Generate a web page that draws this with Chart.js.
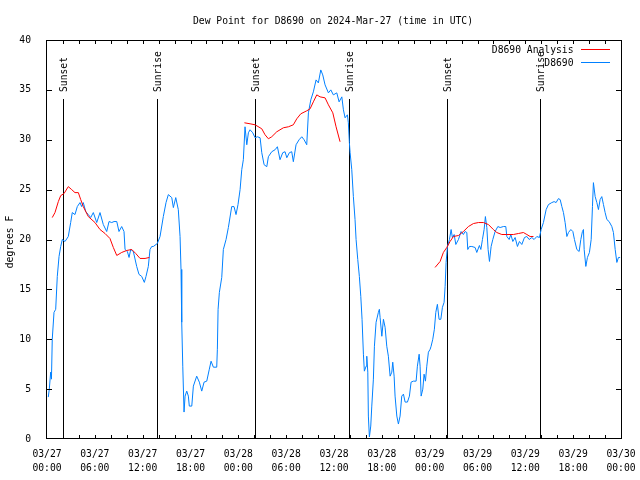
<!DOCTYPE html>
<html>
<head>
<meta charset="utf-8">
<script src="https://cdn.jsdelivr.net/npm/chart.js@4/dist/chart.umd.min.js"></script>
<style>
  body { margin: 0; background: #fff; }
  #dewChart { display: block; }
</style>
</head>
<body>
<canvas id="dewChart" width="640" height="480"></canvas>
<script>
// hours since 03/27 00:00 UTC
const blueHours = [0.16,0.29,0.46,0.56,0.66,0.88,1.09,1.29,1.51,1.72,1.92,2.26,2.67,2.97,3.17,3.51,3.80,4.14,4.35,4.55,4.86,5.18,5.48,5.81,6.24,6.65,7.06,7.49,7.78,8.12,8.41,8.75,9.03,9.37,9.66,9.79,10.08,10.29,10.50,10.83,11.25,11.54,11.88,12.21,12.42,12.71,12.92,13.14,13.34,13.84,14.18,14.59,14.93,15.22,15.65,15.85,16.15,16.47,16.69,16.81,16.90,17.03,17.19,17.32,17.53,17.73,17.85,18.16,18.36,18.78,19.11,19.41,19.70,20.04,20.36,20.58,20.87,21.29,21.37,21.46,21.62,21.92,22.12,22.46,22.75,23.17,23.46,23.71,23.96,24.22,24.43,24.63,24.84,25.06,25.26,25.47,25.81,26.10,26.39,26.73,26.94,27.23,27.57,27.77,28.19,28.61,28.90,29.23,29.57,29.86,30.08,30.40,30.70,30.90,31.24,31.62,31.96,32.25,32.58,32.79,33.09,33.41,33.75,34.04,34.34,34.59,34.88,35.30,35.60,35.92,36.35,36.64,36.98,37.18,37.39,37.68,37.80,37.93,38.02,38.23,38.43,38.64,38.77,38.98,39.18,39.36,39.52,39.69,39.81,40.03,40.11,40.24,40.31,40.44,40.61,40.74,40.94,41.07,41.28,41.57,41.69,41.78,42.00,42.20,42.41,42.62,42.82,43.04,43.25,43.37,43.54,43.66,43.88,44.08,44.29,44.50,44.71,44.92,45.21,45.46,45.67,45.96,46.30,46.46,46.68,46.80,46.93,47.14,47.30,47.47,47.64,47.84,48.06,48.18,48.39,48.59,48.77,48.97,49.18,49.40,49.60,49.81,49.94,50.06,50.23,50.48,50.69,50.85,51.07,51.28,51.61,51.94,52.23,52.45,52.66,52.78,52.99,53.29,53.70,53.91,54.24,54.42,54.62,54.83,54.99,55.17,55.33,55.50,55.71,55.92,56.21,56.55,56.84,57.25,57.55,57.68,57.97,58.18,58.43,58.72,59.01,59.26,59.56,59.89,60.19,60.48,60.82,61.10,61.44,61.77,61.98,62.27,62.61,62.90,63.32,63.61,63.86,64.15,64.37,64.58,64.78,64.99,65.21,65.41,65.71,65.96,66.16,66.46,66.75,66.96,67.16,67.29,67.38,67.59,67.79,68.04,68.26,68.42,68.54,68.76,68.97,69.17,69.38,69.59,69.80,70.01,70.23,70.51,70.85,71.05,71.27,71.48,71.68,71.89];
const blueValues = [4.2,5.0,6.7,6.0,10,12.7,13,16.3,18.3,19.3,20,19.8,20.3,21.7,22.7,22.5,23.3,23.7,23.3,23.7,22.8,22.5,22.2,22.7,21.7,22.7,21.5,20.8,21.8,21.7,21.8,21.8,20.8,21.3,20.8,19.0,18.8,18.2,19,18.8,17.3,16.5,16.3,15.7,16.3,17.3,19,19.3,19.3,19.6,20.3,22.3,23.7,24.5,24.2,23.2,24.2,23,20.3,17,11.7,7.3,2.7,4.3,4.8,4.3,3.3,3.3,5.3,6.3,5.7,4.8,5.7,5.8,7,7.8,7.2,7.2,9,13,14.7,16.2,19,20,21.2,23.3,23.3,22.5,23.5,25,27,28,31.3,29.5,30.7,31,30.7,30.2,30.3,30.2,28.7,27.5,27.3,28.3,28.8,29,29.3,28,28.7,28.8,28.2,28.7,28.8,27.8,29.5,30,30.3,30,29.5,32.7,34,34.8,36,35.7,37,36.5,35.5,34.7,35,34.5,34.7,33.8,34.3,33,32.2,32.5,31.7,29.7,28.7,27,24.3,22,20,18,16.3,14.3,12,8.5,6.8,7.3,8.3,6.7,2.3,0.2,1.3,3.3,6,9.3,11.7,12.7,13,12.2,10.3,12,11.2,9.3,8.3,6.3,6.7,7.7,6.3,4.3,2.3,1.5,2.3,4.3,4.5,3.7,3.7,4.3,5.7,5.8,5.8,7.3,8.5,7.3,4.3,5,6.5,5.8,7.3,8.7,9,9.3,10,11,12.7,13.5,12,12,13.2,13.7,15.3,17.7,19.3,20,21,20.2,20.5,19.5,20,20.8,20.5,20.8,20.7,19,19.3,19.3,19.2,18.7,19.4,19,20,21,22.3,21.2,19,17.8,19.3,20,20.8,21.3,21.2,21.3,21.3,20.3,20,20.5,19.8,20.2,19.3,19.8,19.5,20.2,20.3,20,20.2,20,20.3,20.2,21,21.7,23,23.5,23.7,23.8,23.7,24.1,24,23.3,22.7,21.7,20.3,20.7,21,20.8,20,19,18.8,20,20.8,21,19,17.3,18.2,18.7,20,23.3,25.7,24.3,23.7,23,24,24.3,23.5,22.7,22,21.8,21.3,20.7,19,17.7,18.2,18.2];

// analysis, null = gap between runs
const redHours = [0.66,1.00,1.42,1.72,2.13,2.67,3.10,3.51,3.93,4.23,4.55,5.18,6.02,6.65,7.28,7.90,8.32,8.75,9.37,10.00,10.63,11.13,11.67,12.30,12.84,
  18,
  24.76,25.47,26.10,26.94,27.35,27.77,28.19,28.82,29.65,30.28,30.90,31.33,31.83,32.58,33.00,33.41,33.84,34.25,34.88,35.30,35.85,36.26,36.76,
  42,
  48.68,49.31,49.72,50.15,50.56,50.98,51.61,52.23,52.86,53.49,54.12,54.74,55.37,55.99,56.42,57.05,57.68,58.51,59.13,59.76,60.19,60.60,61.02];
const redValues = [22.2,22.7,23.8,24.4,24.6,25.3,25,24.7,24.7,24,23.3,22.3,21.7,21,20.6,20.1,19.2,18.4,18.7,18.9,19,18.6,18.1,18.1,18.2,
  null,
  31.7,31.6,31.5,31.1,30.5,30.1,30.3,30.8,31.2,31.3,31.5,32.1,32.6,32.9,33.1,33.8,34.5,34.3,34.2,33.5,32.7,31.3,29.8,
  null,
  17.2,17.8,18.7,19.2,19.8,20.3,20.4,20.8,21.3,21.6,21.7,21.7,21.5,21,20.7,20.5,20.5,20.5,20.6,20.7,20.5,20.3,20.3];

const sunHours = [2.06, 13.84, 26.14, 37.85, 50.23, 61.9];
const sunLabels = ['Sunset', 'Sunrise', 'Sunset', 'Sunrise', 'Sunset', 'Sunrise'];

const FONT = '9.7px "DejaVu Sans Mono", monospace';

// box, inward ticks, sunrise/sunset lines, title, legend
const gnuplotLook = {
    id: 'gnuplotLook',
    beforeDatasetsDraw(chart) {
        const ctx = chart.ctx;
        const a = chart.chartArea;
        const xs = chart.scales.x;
        ctx.save();
        ctx.strokeStyle = '#000';
        ctx.lineWidth = 1;
        ctx.fillStyle = '#000';
        ctx.font = FONT;
        sunHours.forEach((h, i) => {
            const px = Math.round(xs.getPixelForValue(h)) + 0.5;
            ctx.beginPath();
            ctx.moveTo(px, 99);
            ctx.lineTo(px, a.bottom);
            ctx.stroke();
            ctx.save();
            ctx.translate(px + 1, 92);
            ctx.rotate(-Math.PI / 2);
            ctx.textAlign = 'left';
            ctx.textBaseline = 'middle';
            ctx.fillText(sunLabels[i], 0, 0);
            ctx.restore();
        });
        ctx.restore();
    },
    afterDraw(chart) {
        const ctx = chart.ctx;
        const a = chart.chartArea;
        const xs = chart.scales.x;
        const ys = chart.scales.y;
        ctx.save();
        ctx.strokeStyle = '#000';
        ctx.lineWidth = 1;
        ctx.strokeRect(a.left - 0.5, a.top + 0.5, a.right - a.left + 1, a.bottom - a.top - 1);
        ctx.beginPath();
        for (let h = 2; h < 72; h += 2) {
            const px = Math.round(xs.getPixelForValue(h)) + 0.5;
            ctx.moveTo(px, a.bottom); ctx.lineTo(px, a.bottom - 4);
            ctx.moveTo(px, a.top); ctx.lineTo(px, a.top + 4);
        }
        for (let v = 5; v < 40; v += 5) {
            const py = Math.round(ys.getPixelForValue(v)) + 0.5;
            ctx.moveTo(a.left, py); ctx.lineTo(a.left + 5, py);
            ctx.moveTo(a.right, py); ctx.lineTo(a.right - 5, py);
        }
        ctx.stroke();

        ctx.fillStyle = '#000';
        ctx.font = FONT;
        ctx.textBaseline = 'middle';
        ctx.textAlign = 'center';
        ctx.fillText('Dew Point for D8690 on 2024-Mar-27 (time in UTC)', 333, 21);

        ctx.save();
        ctx.translate(10, 242);
        ctx.rotate(-Math.PI / 2);
        ctx.fillText('degrees F', 0, 0);
        ctx.restore();

        // legend
        ctx.textAlign = 'right';
        chart.data.datasets.forEach((ds, i) => {
            const y = 50 + i * 13;
            ctx.fillStyle = '#000';
            ctx.fillText(ds.label, 573.5, y);
            ctx.strokeStyle = ds.borderColor;
            ctx.beginPath();
            ctx.moveTo(581, y - 0.5);
            ctx.lineTo(610, y - 0.5);
            ctx.stroke();
        });
        ctx.restore();
    }
};

function hourLabel(v) {
    const day = 27 + Math.floor(v / 24);
    const hh = v % 24;
    return ['03/' + day, String(hh).padStart(2, '0') + ':00'];
}

const ctx = document.getElementById('dewChart').getContext('2d');
const dewChart = new Chart(ctx, {
    type: 'line',
    data: {
        datasets: [{
            label: 'D8690 Analysis',
            data: redHours.map((h, i) => ({ x: h, y: redValues[i] })),
            borderColor: '#ff0000',
            borderWidth: 1,
            pointRadius: 0,
            tension: 0,
            spanGaps: false
        }, {
            label: 'D8690',
            data: blueHours.map((h, i) => ({ x: h, y: blueValues[i] })),
            borderColor: '#0080ff',
            borderWidth: 1,
            pointRadius: 0,
            tension: 0
        }]
    },
    options: {
        responsive: false,
        animation: false,
        events: [],
        layout: { padding: { left: 0, top: 40, right: 19, bottom: 0 } },
        plugins: {
            legend: { display: false },
            title: { display: false },
            tooltip: { enabled: false }
        },
        scales: {
            x: {
                type: 'linear',
                min: 0,
                max: 72,
                grid: { display: false },
                border: { display: false },
                ticks: {
                    stepSize: 6,
                    autoSkip: false,
                    maxRotation: 0,
                    padding: 1,
                    color: '#000',
                    font: { family: '"DejaVu Sans Mono", monospace', size: 9.7, lineHeight: 1.4 },
                    callback: (v) => hourLabel(v)
                },
                afterFit: (scale) => {
                    scale.height = 41;
                    scale.paddingLeft = 0;
                    scale.paddingRight = 0;
                }
            },
            y: {
                min: 0,
                max: 40,
                grid: { display: false },
                border: { display: false },
                ticks: {
                    stepSize: 5,
                    padding: 8,
                    color: '#000',
                    font: { family: '"DejaVu Sans Mono", monospace', size: 9.7 }
                },
                afterFit: (scale) => {
                    scale.width = 47;
                    scale.paddingTop = 0;
                    scale.paddingBottom = 0;
                }
            }
        }
    },
    plugins: [gnuplotLook]
});
</script>
</body>
</html>
